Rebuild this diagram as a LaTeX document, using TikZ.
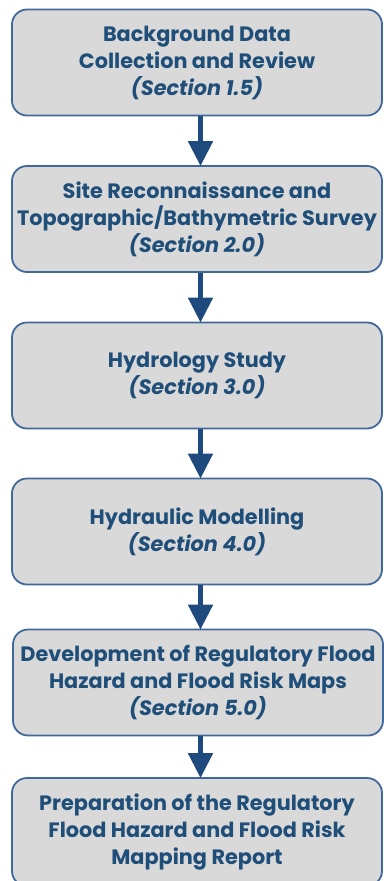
\documentclass[tikz,border=0pt]{standalone}
\usepackage{fontspec}
\setmainfont{Poppins}
\usetikzlibrary{arrows.meta}
\definecolor{boxfill}{HTML}{D9D9D9}
\definecolor{boxline}{HTML}{41689B}
\definecolor{txtblue}{HTML}{1F4E79}
\definecolor{arrblue}{HTML}{1F4A7E}
\tikzset{
  stepbox/.style={draw=boxline, line width=1.8pt, fill=boxfill, rounded corners=15pt,
    minimum width=370pt, minimum height=106pt, inner sep=0pt,
    align=center, text=txtblue, font=\fontsize{20.8}{27}\selectfont\bfseries},
  flow/.style={draw=arrblue, line width=5pt, -{Triangle[width=24pt,length=25pt]}, shorten >=-1pt}
}
\begin{document}
\begin{tikzpicture}[x=1pt,y=1pt]
\useasboundingbox (0,0) rectangle (383,-881);
\node[stepbox] (b1) at (197,-62.5) {Background Data\\Collection and Review\\\textit{(Section 1.5)}};
\node[stepbox] (b2) at (197,-219) {Site Reconnaissance and\\Topographic/Bathymetric Survey\\\textit{(Section 2.0)}};
\node[stepbox] (b3) at (197,-375.5) {Hydrology Study\\\textit{(Section 3.0)}};
\node[stepbox] (b4) at (197,-531.5) {Hydraulic Modelling\\\textit{(Section 4.0)}};
\node[stepbox] (b5) at (198,-682.5) {Development of Regulatory Flood\\Hazard and Flood Risk Maps\\\textit{(Section 5.0)}};
\node[stepbox, minimum height=108pt] (b6) at (197,-832) {Preparation of the Regulatory\\Flood Hazard and Flood Risk\\Mapping Report};
\draw[flow] (b1.south -| 200.5,0) -- (b2.north -| 200.5,0);
\draw[flow] (b2.south -| 200.5,0) -- (b3.north -| 200.5,0);
\draw[flow] (b3.south -| 200.5,0) -- (b4.north -| 200.5,0);
\draw[flow] (b4.south -| 200.5,0) -- (b5.north -| 200.5,0);
\draw[flow] (b5.south -| 200.5,0) -- (b6.north -| 200.5,0);
\end{tikzpicture}
\end{document}
